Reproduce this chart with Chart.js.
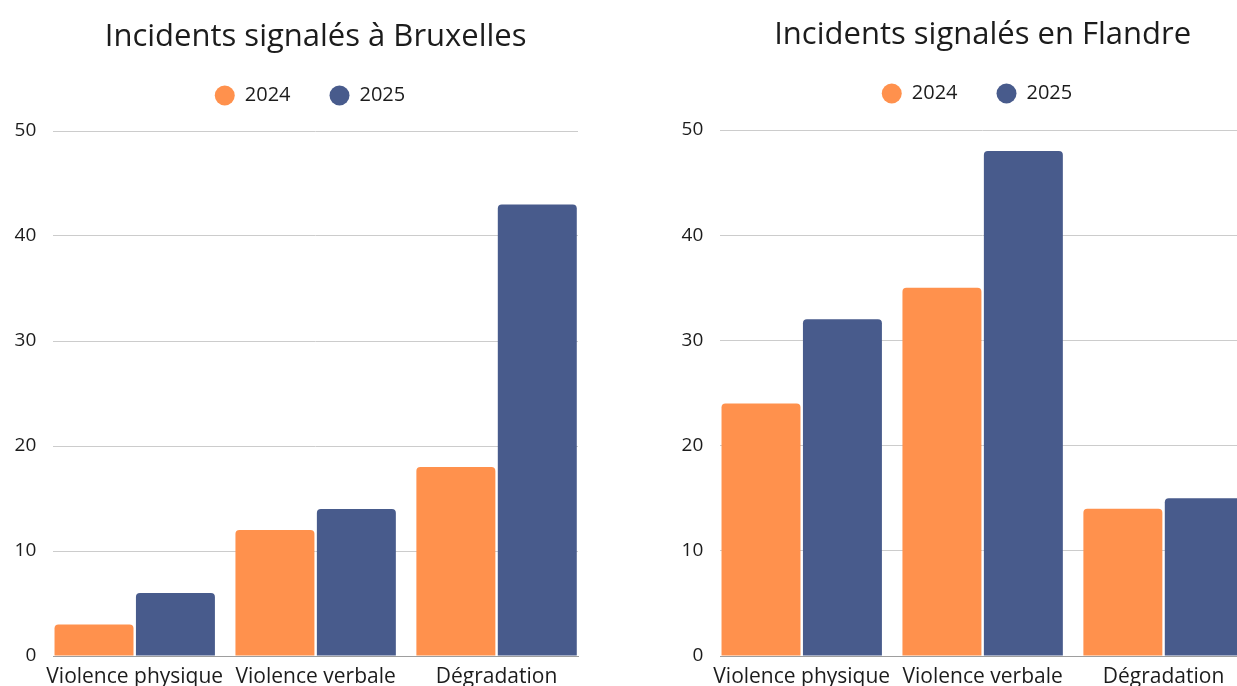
<!DOCTYPE html>
<html lang="fr">
<head>
<meta charset="utf-8">
<title>Incidents signalés</title>
<script src="https://cdn.jsdelivr.net/npm/chart.js@4.4.1/dist/chart.umd.min.js"></script>
<style>
  html, body { margin: 0; padding: 0; background: #fff; overflow: hidden; width: 1237px; height: 686px; }
  canvas { position: absolute; top: 0; }
  #bruxelles { left: 0; }
  #flandre { left: 667px; }
</style>
</head>
<body>
<canvas id="bruxelles" width="630" height="700"></canvas>
<canvas id="flandre" width="630" height="700"></canvas>
<script>
// data
const categories = ['Violence physique', 'Violence verbale', 'Dégradation'];
const years = ['2024', '2025'];
const bruxelles2024 = [3, 12, 18];
const bruxelles2025 = [6, 14, 43];
const flandre2024 = [24, 35, 14];
const flandre2025 = [32, 48, 15];
const yTicks = [0, 10, 20, 30, 40, 50];

const yearColors = ['#ff914d', '#485b8c'];
const textColor = '#1c1c1c';

Chart.defaults.font.family = "'Open Sans', sans-serif";
Chart.defaults.color = textColor;

function toPoints(values) {
    return values.map(function (v, i) {
        return { x: i, y: v };
    });
}

function makeChart(id, title, series, tweak) {
    const datasets = series.map(function (values, i) {
        return {
            label: years[i],
            data: toPoints(values),
            backgroundColor: yearColors[i],
            borderWidth: 0,
            borderRadius: 4,
            borderSkipped: 'start',
            barPercentage: 0.97,
            categoryPercentage: 0.9
        };
    });

    return new Chart(document.getElementById(id), {
        type: 'bar',
        data: { datasets: datasets },
        options: {
            responsive: false,
            animation: false,
            layout: { padding: { left: 10, right: 20, top: 0, bottom: 0 } },
            scales: {
                x: {
                    type: 'linear',
                    offset: false,
                    min: -0.45,
                    max: categories.length - 0.55,
                    afterBuildTicks: function (s) {
                        s.ticks = categories.map(function (c, i) { return { value: i }; });
                    },
                    afterFit: function (s) { s.height = 44; },
                    grid: { display: false, offset: false },
                    border: { display: true, color: '#9e9e9e' },
                    ticks: {
                        autoSkip: false,
                        maxRotation: 0,
                        padding: 0,
                        font: { size: 21 },
                        callback: function (v) { return categories[v]; }
                    }
                },
                y: {
                    min: 0,
                    max: 50,
                    afterBuildTicks: function (s) {
                        s.ticks = yTicks.map(function (v) { return { value: v }; });
                    },
                    afterFit: function (s) { s.width = 43.3; },
                    grid: { color: '#cccccc', drawTicks: false },
                    border: { display: false },
                    ticks: { padding: 17, font: { size: 19 } }
                },
                // blank strip on the right so the legend centres like the original
                spacer: {
                    type: 'linear',
                    position: 'right',
                    grid: { display: false },
                    border: { display: false },
                    ticks: { display: false },
                    afterFit: function (s) { s.width = 32; }
                }
            },
            plugins: {
                title: {
                    display: true,
                    text: title,
                    fullSize: false,
                    color: textColor,
                    font: { size: 31, weight: 'normal', lineHeight: 0.6 },
                    padding: { top: 27.9 + tweak.title, bottom: 0 }
                },
                // empty block that keeps the gap between legend and plot
                subtitle: {
                    display: true,
                    text: '',
                    weight: 500,
                    font: { size: 1, lineHeight: 0 },
                    padding: { top: 15.5 + tweak.gap, bottom: 0 }
                },
                legend: {
                    labels: {
                        usePointStyle: true,
                        pointStyle: 'circle',
                        pointStyleWidth: 20,
                        boxHeight: 14,
                        padding: 39,
                        color: textColor,
                        font: { size: 20 }
                    }
                },
                tooltip: { enabled: false }
            }
        }
    });
}

makeChart('bruxelles', 'Incidents signalés à Bruxelles', [bruxelles2024, bruxelles2025], { title: 0, gap: 0 });
makeChart('flandre', 'Incidents signalés en Flandre', [flandre2024, flandre2025], { title: -2, gap: 1 });
</script>
</body>
</html>
